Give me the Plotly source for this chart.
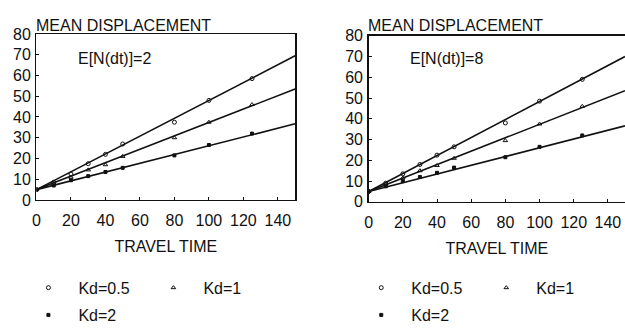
import plotly.graph_objects as go

W, H = 625, 332

# ---- data ----
travel_time = [0, 10, 20, 30, 40, 50, 80, 100, 125]
line_time = [0, 150]

left_kd05 = [5, 8.5, 12.5, 17.5, 22, 27, 37.5, 48, 58.5]
left_kd1 = [5, 8, 11, 14.5, 17, 21, 30, 37.5, 46]
left_kd2 = [5, 7, 9.5, 11.5, 13.5, 15.5, 21.5, 26.5, 32]
left_fit_kd05 = [5, 69.5]
left_fit_kd1 = [5, 53.5]
left_fit_kd2 = [5, 36.7]

right_kd05 = [5, 9, 13.5, 18, 22.5, 26.5, 38, 48.5, 59]
right_kd1 = [5, 8.5, 11.5, 15, 17.5, 21, 29.5, 37.5, 46]
right_kd2 = [5, 7.5, 10, 12, 14, 16.5, 21.5, 26.5, 32]
right_fit_kd05 = [5, 70]
right_fit_kd1 = [5, 53.5]
right_fit_kd2 = [5, 36.6]

x_ticks = [0, 20, 40, 60, 80, 100, 120, 140]
y_ticks = [0, 10, 20, 30, 40, 50, 60, 70, 80]
series_names = ["Kd=0.5", "Kd=1", "Kd=2"]
panel_labels = ["E[N(dt)]=2", "E[N(dt)]=8"]

FONT = "Liberation Sans, Arial, Helvetica, sans-serif"
INK = "#111111"


def fx(p):
    """page x pixel -> paper fraction"""
    return p / W


def fy(p):
    """page y pixel (from top) -> paper fraction"""
    return 1 - p / H


symbols = ["circle-open", "triangle-up-open", "square"]
sizes = [4, 4, 3]

panels = [
    ("x", "y", [left_kd05, left_kd1, left_kd2],
     [left_fit_kd05, left_fit_kd1, left_fit_kd2], ["legend", "legend", "legend2"]),
    ("x2", "y2", [right_kd05, right_kd1, right_kd2],
     [right_fit_kd05, right_fit_kd1, right_fit_kd2], ["legend3", "legend3", "legend4"]),
]

fig = go.Figure()
for xa, ya, pts, fits, legs in panels:
    for i in range(3):
        fig.add_trace(go.Scatter(
            x=line_time, y=fits[i], mode="lines", xaxis=xa, yaxis=ya,
            line=dict(color=INK, width=1.6), showlegend=False, hoverinfo="skip"))
    for i in range(3):
        fig.add_trace(go.Scatter(
            x=travel_time, y=pts[i], mode="markers", xaxis=xa, yaxis=ya,
            name=series_names[i], legend=legs[i],
            marker=dict(symbol=symbols[i], size=sizes[i], color=INK,
                        line=dict(color=INK, width=1))))

axis_common = dict(
    showline=True, linecolor=INK, linewidth=1.5, showgrid=False, zeroline=False,
    ticks="inside", ticklen=3, tickwidth=1, tickcolor=INK,
    tickfont=dict(family=FONT, size=16, color=INK),
)
x_title = dict(text="TRAVEL TIME", standoff=13, font=dict(family=FONT, size=16, color=INK))

fig.update_layout(
    width=W, height=H,
    margin=dict(l=0, r=0, t=0, b=0),
    paper_bgcolor="white", plot_bgcolor="white",
    font=dict(family=FONT, size=16, color=INK),
    xaxis=dict(domain=[fx(32.7), fx(293)], range=[0, 150], tickvals=x_ticks,
               mirror=True, anchor="y", ticklabelstandoff=5, title=x_title,
               **axis_common),
    yaxis=dict(domain=[fy(203), fy(27.5)], range=[0, 80], tickvals=y_ticks,
               mirror=True, anchor="x", ticklabelstandoff=1, **axis_common),
    xaxis2=dict(domain=[fx(367), 1.0], range=[0, 150],
                tickvals=x_ticks, mirror=True, anchor="y2", ticklabelstandoff=5,
                title=x_title, **axis_common),
    yaxis2=dict(domain=[fy(205), fy(29.3)], range=[0, 80], tickvals=y_ticks,
                mirror=False, anchor="x2", ticklabelstandoff=1, **axis_common),
)

leg_common = dict(orientation="h", font=dict(family=FONT, size=16, color=INK),
                  bgcolor="rgba(0,0,0,0)", itemwidth=50, entrywidthmode="pixels",
                  xanchor="left", yanchor="middle", itemclick=False, itemdoubleclick=False)
fig.update_layout(
    legend=dict(x=fx(14.5), y=fy(295.8), entrywidth=60, **leg_common),
    legend2=dict(x=fx(14.5), y=fy(324.8), entrywidth=60, **leg_common),
    legend3=dict(x=fx(349.5), y=fy(295.8), entrywidth=60, **leg_common),
    legend4=dict(x=fx(349.5), y=fy(324.8), entrywidth=60, **leg_common),
)

annots = [
    dict(text="MEAN DISPLACEMENT", x=fx(30), y=fy(19)),
    dict(text="MEAN DISPLACEMENT", x=fx(364), y=fy(18.5)),
    dict(text=panel_labels[0], x=fx(72), y=fy(53)),
    dict(text=panel_labels[1], x=fx(407), y=fy(53)),
]
for a in annots:
    fig.add_annotation(xref="paper", yref="paper", xanchor="left", yanchor="middle",
                       showarrow=False, font=dict(family=FONT, size=16, color=INK), **a)

# remove the default 8px page margin so the figure sits at the window's top-left corner
fig.write_html("out.html",
               config={"displayModeBar": False, "staticPlot": True},
               post_script="document.body.style.margin='0px';"
                           "document.body.style.overflow='hidden';")
